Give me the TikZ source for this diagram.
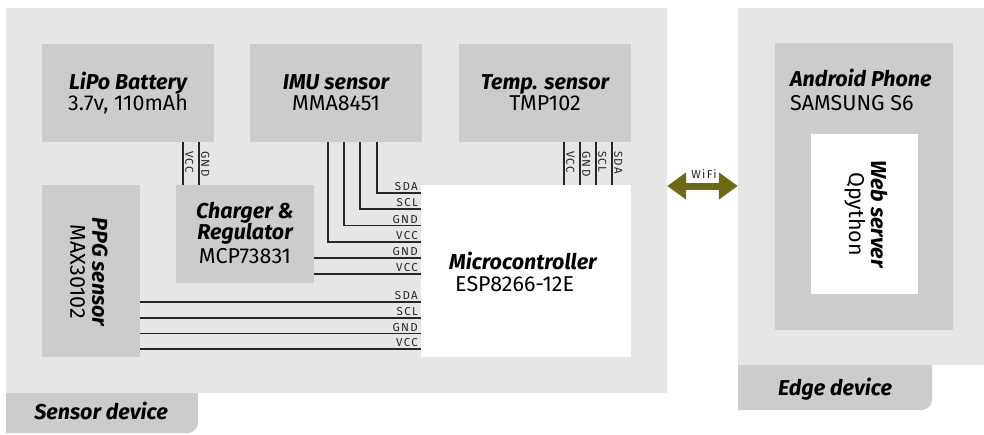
\documentclass[tikz,border=0pt]{standalone}
\usepackage{fontspec}
\setmainfont{Fira Sans}
\newfontfamily\sigfont[LetterSpace=12]{Fira Sans}
\usetikzlibrary{arrows.meta}
\definecolor{panelgray}{HTML}{E6E6E6}
\definecolor{boxgray}{HTML}{CCCCCC}
\definecolor{wifiolive}{HTML}{6E6A14}
\newcommand\ttlf{\fontsize{21.5}{22}\selectfont\bfseries\itshape}
\newcommand\subf{\fontsize{21.5}{22}\selectfont}
\begin{document}
\begin{tikzpicture}[x=1pt,y=-1pt,
  panel/.style={fill=panelgray, inner sep=0pt},
  box/.style={fill=boxgray, inner sep=0pt},
  wbox/.style={fill=white, inner sep=0pt},
  ttl/.style={font=\ttlf, inner sep=0pt},
  sub/.style={font=\subf, inner sep=0pt},
  rtxt/.style={rotate=-90, align=center, inner sep=0pt, font=\subf},
  wire/.style={line width=1.1pt, draw=black!85},
  sig/.style={font=\sigfont\fontsize{11.5}{12}\selectfont, inner sep=0pt, text=black!85},
  vsig/.style={sig, rotate=-90, anchor=south west},
  hsig/.style={sig, anchor=base east},
]
\useasboundingbox (0,0) rectangle (984,434);
% panels
\node[panel, minimum width=661pt, minimum height=385pt] (sensorpanel) at (336.5,200.5) {};
\node[panel, minimum width=246pt, minimum height=357pt] (edgepanel) at (861,186.5) {};
% tabs
\fill[boxgray] (6,393) -- (198,393) -- (198,423) .. controls (198,428.5) and (192.5,433) .. (188,433) -- (6,433) -- cycle;
\fill[boxgray] (738,365) -- (932,365) -- (932,400) .. controls (932,405.5) and (926.5,410) .. (922,410) -- (738,410) -- cycle;
\node[ttl, anchor=base] (sensortab) at (101,419) {Sensor device};
\node[ttl, anchor=base] (edgetab) at (835,395) {Edge device};
% boxes
\node[box, minimum width=172pt, minimum height=98pt] (lipo) at (128,93) {};
\node[box, minimum width=172pt, minimum height=98pt] (imu) at (336,93) {};
\node[box, minimum width=172pt, minimum height=98pt] (temp) at (545,93) {};
\node[box, minimum width=138pt, minimum height=98pt] (charger) at (245,234) {};
\node[box, minimum width=98pt, minimum height=172pt] (ppg) at (91,271) {};
\node[wbox, minimum width=210pt, minimum height=172pt] (micro) at (526,271) {};
\node[box, minimum width=178pt, minimum height=287pt] (phone) at (864,186.5) {};
\node[wbox, minimum width=107pt, minimum height=160pt] (web) at (864.5,214) {};
% box texts
\node[ttl, anchor=base] (lipot) at (128,89) {LiPo Battery};
\node[sub, anchor=base] (lipos) at (128,110) {3.7v, 110mAh};
\node[ttl, anchor=base] (imut) at (336,89) {IMU sensor};
\node[sub, anchor=base] (imus) at (336,110) {MMA8451};
\node[ttl, anchor=base] (tempt) at (545,89) {Temp. sensor};
\node[sub, anchor=base] (temps) at (545,110) {TMP102};
\node[ttl, anchor=base] (chart1) at (245,218) {Charger \&};
\node[ttl, anchor=base] (chart2) at (245,239) {Regulator};
\node[sub, anchor=base] (chars) at (245,263) {MCP73831};
\node[rtxt] (ppgt) at (89,272) {{\ttlf PPG sensor}\\{\subf MAX30102}};
\node[ttl, anchor=base west] (microt) at (449,269) {Microcontroller};
\node[sub, anchor=base west] (micros) at (455,291) {ESP8266-12E};
\node[ttl, anchor=base west] (phonet) at (790,86) {Android Phone};
\node[sub, anchor=base west] (phones) at (790,110) {SAMSUNG S6};
\node[rtxt] (webt) at (866,214) {{\ttlf Web server}\\{\subf Qpython}};
% battery to charger
\draw[wire] (lipo.south -| 183,0) -- (charger.north -| 183,0);
\draw[wire] (lipo.south -| 199,0) -- (charger.north -| 199,0);
\node[vsig] at (185,151) {VCC};
\node[vsig] at (201,151) {GND};
% IMU to micro
\draw[wire] (imu.south -| 328,0) |- (micro.west |- 0,242);
\draw[wire] (imu.south -| 344,0) |- (micro.west |- 0,225.5);
\draw[wire] (imu.south -| 360,0) |- (micro.west |- 0,209);
\draw[wire] (imu.south -| 377,0) |- (micro.west |- 0,193);
\node[hsig] at (418,190.5) {SDA};
\node[hsig] at (418,206.5) {SCL};
\node[hsig] at (418,223) {GND};
\node[hsig] at (418,239.5) {VCC};
% charger to micro
\draw[wire] (charger.east |- 0,258) -- (micro.west |- 0,258);
\draw[wire] (charger.east |- 0,274) -- (micro.west |- 0,274);
\node[hsig] at (418,255.5) {GND};
\node[hsig] at (418,271.5) {VCC};
% PPG to micro
\draw[wire] (ppg.east |- 0,302) -- (micro.west |- 0,302);
\draw[wire] (ppg.east |- 0,318) -- (micro.west |- 0,318);
\draw[wire] (ppg.east |- 0,333.5) -- (micro.west |- 0,333.5);
\draw[wire] (ppg.east |- 0,349) -- (micro.west |- 0,349);
\node[hsig] at (418,299.5) {SDA};
\node[hsig] at (418,315.5) {SCL};
\node[hsig] at (418,331) {GND};
\node[hsig] at (418,346.5) {VCC};
% temp to micro
\draw[wire] (temp.south -| 564,0) -- (micro.north -| 564,0);
\draw[wire] (temp.south -| 580,0) -- (micro.north -| 580,0);
\draw[wire] (temp.south -| 596,0) -- (micro.north -| 596,0);
\draw[wire] (temp.south -| 612,0) -- (micro.north -| 612,0);
\node[vsig] at (566,151) {VCC};
\node[vsig] at (582,151) {GND};
\node[vsig] at (598,151) {SCL};
\node[vsig] at (614,151) {SDA};
% wifi
\draw[wifiolive, line width=7pt, {Triangle[length=19pt, width=26pt]}-{Triangle[length=19pt, width=26pt]}] (sensorpanel.east |- 0,186) -- (edgepanel.west |- 0,186);
\node[sig, fill=white, inner sep=1.5pt] (wifi) at (704,174) {WiFi};
\end{tikzpicture}
\end{document}
